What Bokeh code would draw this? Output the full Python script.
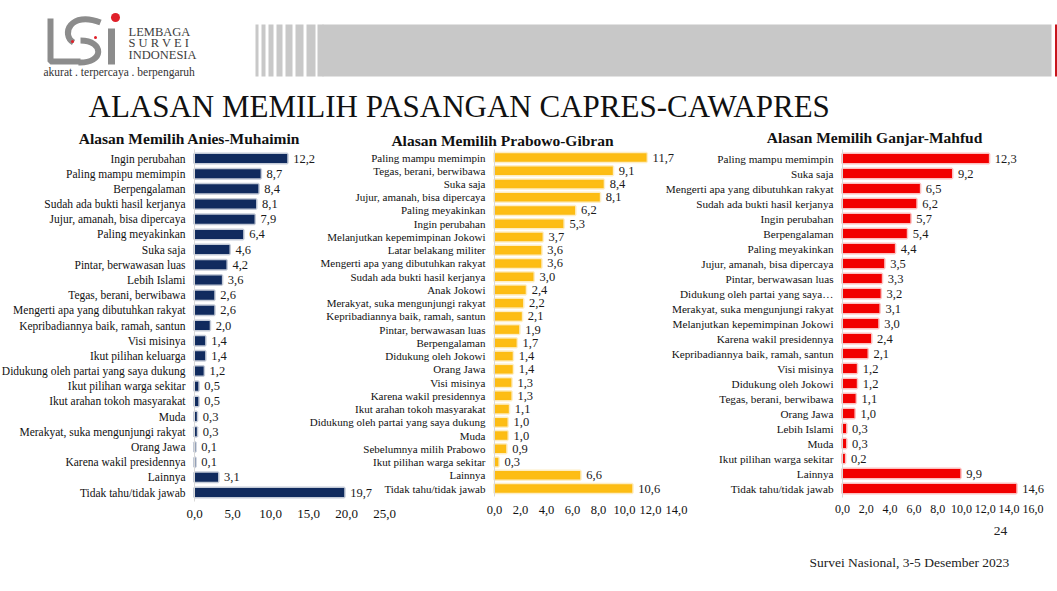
from bokeh.plotting import figure
from bokeh.models import Range1d, LinearAxis, FixedTicker, ColumnDataSource, Label
from bokeh.embed import file_html
from bokeh.resources import INLINE
from bokeh.core.properties import value

# ---------------- DATA ----------------
anies_reasons = [
    "Ingin perubahan", "Paling mampu memimpin", "Berpengalaman",
    "Sudah ada bukti hasil kerjanya", "Jujur, amanah, bisa dipercaya",
    "Paling meyakinkan", "Suka saja", "Pintar, berwawasan luas", "Lebih Islami",
    "Tegas, berani, berwibawa", "Mengerti apa yang dibutuhkan rakyat",
    "Kepribadiannya baik, ramah, santun", "Visi misinya", "Ikut pilihan keluarga",
    "Didukung oleh partai yang saya dukung", "Ikut pilihan warga sekitar",
    "Ikut arahan tokoh masyarakat", "Muda", "Merakyat, suka mengunjungi rakyat",
    "Orang Jawa", "Karena wakil presidennya", "Lainnya", "Tidak tahu/tidak jawab",
]
anies_values = [12.2, 8.7, 8.4, 8.1, 7.9, 6.4, 4.6, 4.2, 3.6, 2.6, 2.6, 2.0, 1.4,
                1.4, 1.2, 0.5, 0.5, 0.3, 0.3, 0.1, 0.1, 3.1, 19.7]

prabowo_reasons = [
    "Paling mampu memimpin", "Tegas, berani, berwibawa", "Suka saja",
    "Jujur, amanah, bisa dipercaya", "Paling meyakinkan", "Ingin perubahan",
    "Melanjutkan kepemimpinan Jokowi", "Latar belakang militer",
    "Mengerti apa yang dibutuhkan rakyat", "Sudah ada bukti hasil kerjanya",
    "Anak Jokowi", "Merakyat, suka mengunjungi rakyat",
    "Kepribadiannya baik, ramah, santun", "Pintar, berwawasan luas",
    "Berpengalaman", "Didukung oleh Jokowi", "Orang Jawa", "Visi misinya",
    "Karena wakil presidennya", "Ikut arahan tokoh masyarakat",
    "Didukung oleh partai yang saya dukung", "Muda", "Sebelumnya milih Prabowo",
    "Ikut pilihan warga sekitar", "Lainnya", "Tidak tahu/tidak jawab",
]
prabowo_values = [11.7, 9.1, 8.4, 8.1, 6.2, 5.3, 3.7, 3.6, 3.6, 3.0, 2.4, 2.2, 2.1,
                  1.9, 1.7, 1.4, 1.4, 1.3, 1.3, 1.1, 1.0, 1.0, 0.9, 0.3, 6.6, 10.6]

ganjar_reasons = [
    "Paling mampu memimpin", "Suka saja", "Mengerti apa yang dibutuhkan rakyat",
    "Sudah ada bukti hasil kerjanya", "Ingin perubahan", "Berpengalaman",
    "Paling meyakinkan", "Jujur, amanah, bisa dipercaya", "Pintar, berwawasan luas",
    "Didukung oleh partai yang saya\u2026", "Merakyat, suka mengunjungi rakyat",
    "Melanjutkan kepemimpinan Jokowi", "Karena wakil presidennya",
    "Kepribadiannya baik, ramah, santun", "Visi misinya", "Didukung oleh Jokowi",
    "Tegas, berani, berwibawa", "Orang Jawa", "Lebih Islami", "Muda",
    "Ikut pilihan warga sekitar", "Lainnya", "Tidak tahu/tidak jawab",
]
ganjar_values = [12.3, 9.2, 6.5, 6.2, 5.7, 5.4, 4.4, 3.5, 3.3, 3.2, 3.1, 3.0, 2.4,
                 2.1, 1.2, 1.2, 1.1, 1.0, 0.3, 0.3, 0.2, 9.9, 14.6]

anies_ticks = [0, 5, 10, 15, 20, 25]
anies_tick_labels = ["0,0", "5,0", "10,0", "15,0", "20,0", "25,0"]
prabowo_ticks = [0, 2, 4, 6, 8, 10, 12, 14]
prabowo_tick_labels = ["0,0", "2,0", "4,0", "6,0", "8,0", "10,0", "12,0", "14,0"]
ganjar_ticks = [0, 2, 4, 6, 8, 10, 12, 14, 16]
ganjar_tick_labels = ["0,0", "2,0", "4,0", "6,0", "8,0", "10,0", "12,0", "14,0", "16,0"]

main_title = "ALASAN MEMILIH PASANGAN CAPRES-CAWAPRES"
panel_titles = ["Alasan Memilih Anies-Muhaimin", "Alasan Memilih Prabowo-Gibran",
                "Alasan Memilih Ganjar-Mahfud"]
page_number = "24"
footer_text = "Survei Nasional, 3-5 Desember 2023"
logo_words = ["LEMBAGA", "S U R V E I", "INDONESIA"]
logo_tagline = "akurat . terpercaya . berpengaruh"

# ---------------- LAYOUT / STYLE ----------------
# Bokeh's page template sets body margin to 0, so the figure starts at (0, 0)
W, H = 1057, 585
SERIF = "Liberation Serif"

p = figure(width=W, height=H, x_range=Range1d(0, W), y_range=Range1d(H, 0),
           x_axis_type=None, y_axis_type=None, toolbar_location=None,
           output_backend="svg", min_border=0, outline_line_color=None,
           background_fill_color="white", border_fill_color="white", title=None)

# ---- header band ----
band_gray = "#C8C8C8"
p.quad(left=[322], right=[1051], top=[24], bottom=[76],
       fill_color=band_gray, line_color=None)
stripe_l = [255, 261, 268, 276, 285, 295, 306, 317]
stripe_r = [258, 265, 273, 282, 292, 303, 315, 323]
p.quad(left=stripe_l, right=stripe_r, top=[24] * len(stripe_l),
       bottom=[76] * len(stripe_l), fill_color=band_gray, line_color=None)
p.quad(left=[1054.5], right=[1057], top=[24], bottom=[76],
       fill_color="#C8161D", line_color=None)

# ---- logo ----
lg = "#8C8C8C"
p.line(x=[50, 50, 80], y=[18, 61, 61], line_width=6, line_color=lg)
p.bezier(x0=[100], y0=[22], x1=[73], y1=[42], cx0=[70], cy0=[10],
         cx1=[60], cy1=[34], line_width=6, line_color=lg)
p.bezier(x0=[80], y0=[40], x1=[78], y1=[62], cx0=[104], cy0=[40],
         cx1=[104], cy1=[63], line_width=6, line_color=lg)
p.line(x=[111, 111], y=[28, 64], line_width=7, line_color=lg)
p.scatter(x=[115], y=[17], size=9, color="#E0202A", line_color=None)
p.scatter(x=[72, 95], y=[41, 37], size=3, color="#E0202A", line_color=None)
for word, yy in zip(logo_words, [31.5, 42.5, 54]):
    p.add_layout(Label(x=128, y=yy, text=word, text_font=SERIF,
                       text_font_size="12.5px", text_color="#404040",
                       text_baseline="middle", text_align="left"))
p.add_layout(Label(x=43, y=71, text=logo_tagline, text_font=SERIF,
                   text_font_size="11.5px", text_color="#333333",
                   text_baseline="middle", text_align="left"))

# ---- main title ----
p.add_layout(Label(x=88, y=106, text=main_title, text_font=SERIF,
                   text_font_size="31px", text_color="#111111",
                   text_baseline="middle", text_align="left"))

# ---- panels ----
panels = [
    dict(name="anies", reasons=anies_reasons, values=anies_values, ticks=anies_ticks,
         tick_labels=anies_tick_labels, title=panel_titles[0], color="#112B5E",
         x0=194, scale=7.6, y_first=158, y_last=492, bar_px=9,
         cat_size="11.5px", val_size="12.5px", tick_size="13px", tick_y=516,
         title_x=189, title_y=138),
    dict(name="prabowo", reasons=prabowo_reasons, values=prabowo_values,
         ticks=prabowo_ticks, tick_labels=prabowo_tick_labels, title=panel_titles[1],
         color="#FDBD14", x0=494, scale=13.0, y_first=157, y_last=488, bar_px=8.5,
         cat_size="11px", val_size="12.5px", tick_size="12.5px", tick_y=512,
         title_x=502, title_y=140),
    dict(name="ganjar", reasons=ganjar_reasons, values=ganjar_values,
         ticks=ganjar_ticks, tick_labels=ganjar_tick_labels, title=panel_titles[2],
         color="#F20000", x0=842, scale=11.9, y_first=158, y_last=488, bar_px=9,
         cat_size="11.2px", val_size="12.5px", tick_size="12px", tick_y=511,
         title_x=874, title_y=137),
]

for cfg in panels:
    name = cfg["name"]
    reasons, values = cfg["reasons"], cfg["values"]
    n = len(reasons)
    x0 = cfg["x0"]
    s = cfg["scale"]
    yf = cfg["y_first"]
    dy = (cfg["y_last"] - cfg["y_first"]) / (n - 1)
    p.extra_x_ranges[name] = Range1d(start=-x0 / s, end=(W - x0) / s)
    p.extra_y_ranges[name] = Range1d(start=(H - yf) / dy, end=-yf / dy)

    src = ColumnDataSource(dict(
        idx=list(range(n)), val=values, cat=reasons,
        txt=[f"{v:.1f}".replace(".", ",") for v in values]))

    p.hbar(y="idx", right="val", left=0, height=cfg["bar_px"] / dy, source=src,
           x_range_name=name, y_range_name=name, fill_color=cfg["color"],
           line_color=cfg["color"], line_alpha=0.25, line_width=3)
    p.text(x="val", y="idx", text="txt", source=src, x_range_name=name,
           y_range_name=name, x_offset=6, text_align="left", text_baseline="middle",
           text_font=value(SERIF), text_font_size=value(cfg["val_size"]),
           text_color="#1A1A1A")

    yax = LinearAxis(x_range_name=name, y_range_name=name, fixed_location=0,
                     ticker=FixedTicker(ticks=list(range(n))),
                     major_label_overrides={i: r for i, r in enumerate(reasons)},
                     axis_line_color="#D9D9D9", axis_line_width=1,
                     major_tick_line_color=None, minor_tick_line_color=None,
                     major_tick_out=0, major_tick_in=0, minor_tick_out=0,
                     minor_tick_in=0, major_label_standoff=9,
                     major_label_text_font=SERIF,
                     major_label_text_font_size=cfg["cat_size"],
                     major_label_text_color="#111111", bounds=(-0.6, n - 0.4))
    p.add_layout(yax, "left")

    axis_px = cfg["tick_y"] - 7 - 4
    loc = (axis_px - yf) / dy
    xax = LinearAxis(x_range_name=name, y_range_name=name, fixed_location=loc,
                     ticker=FixedTicker(ticks=cfg["ticks"]),
                     major_label_overrides=dict(zip(cfg["ticks"], cfg["tick_labels"])),
                     axis_line_color=None, major_tick_line_color=None,
                     minor_tick_line_color=None, major_tick_out=0, major_tick_in=0,
                     minor_tick_out=0, minor_tick_in=0, major_label_standoff=4,
                     major_label_text_font=SERIF,
                     major_label_text_font_size=cfg["tick_size"],
                     major_label_text_color="#111111",
                     bounds=(cfg["ticks"][0], cfg["ticks"][-1]))
    p.add_layout(xax, "below")

    p.add_layout(Label(x=cfg["title_x"], y=cfg["title_y"], text=cfg["title"],
                       text_font=SERIF, text_font_style="bold",
                       text_font_size="15.5px", text_color="#111111",
                       text_align="center", text_baseline="middle"))

# ---- footer ----
p.add_layout(Label(x=1000, y=530, text=page_number, text_font=SERIF,
                   text_font_size="13.5px", text_color="#222222",
                   text_align="center", text_baseline="middle"))
p.add_layout(Label(x=809, y=562, text=footer_text, text_font=SERIF,
                   text_font_size="13.5px", text_color="#222222",
                   text_align="left", text_baseline="middle"))

open("out.html", "w").write(file_html(p, INLINE))
